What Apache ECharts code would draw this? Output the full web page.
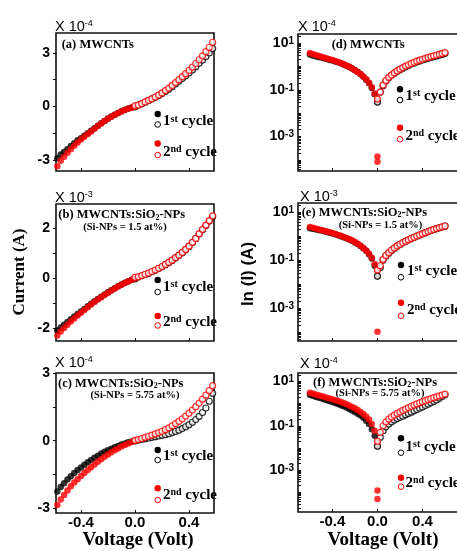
<!DOCTYPE html>
<html>
<head>
<meta charset="utf-8">
<script src="https://cdn.jsdelivr.net/npm/echarts@6.0.0/dist/echarts.min.js"></script>
<style>
  html, body { margin: 0; padding: 0; background: #fff; }
  #chart { width: 457px; height: 551px; }
</style>
</head>
<body>
<div id="chart"></div>
<script>
  const SERIF = '"Liberation Serif", "Times New Roman", serif'
  const SANS = '"Liberation Sans", Arial, sans-serif'
  const RED = '#ff0000'
  const BLACK = '#000000'

  // bias voltage (V), shared by every sweep
  const voltage = [-0.6, -0.575, -0.55, -0.525, -0.5, -0.475, -0.45, -0.425, -0.4, -0.375, -0.35, -0.325,
    -0.3, -0.275, -0.25, -0.225, -0.2, -0.175, -0.15, -0.125, -0.1, -0.075, -0.05, -0.025, 0,
    0.025, 0.05, 0.075, 0.1, 0.125, 0.15, 0.175, 0.2, 0.225, 0.25, 0.275, 0.3, 0.325, 0.35, 0.375,
    0.4, 0.425, 0.45, 0.475, 0.5, 0.525, 0.55, 0.575, 0.6]

  // (a)/(d) MWCNTs, current x 10^-4 A
  const aCycle1 = [-3.2, -2.9, -2.7, -2.55, -2.4, -2.22, -2.06, -1.9, -1.78, -1.64, -1.5, -1.36,
    -1.22, -1.08, -0.94, -0.81, -0.68, -0.57, -0.46, -0.36, -0.27, -0.19, -0.12, -0.065, -0.03,
    0.08, 0.15, 0.24, 0.33, 0.42, 0.51, 0.61, 0.72, 0.84, 0.97, 1.11, 1.26, 1.41, 1.57, 1.72,
    1.88, 2.05, 2.23, 2.42, 2.6, 2.8, 3.0, 3.25, 3.55]
  const aCycle2 = [-3.7, -3.35, -3.05, -2.82, -2.6, -2.4, -2.2, -2.02, -1.86, -1.7, -1.55, -1.4,
    -1.25, -1.1, -0.96, -0.82, -0.69, -0.58, -0.47, -0.37, -0.28, -0.2, -0.13, -0.07, 0.04,
    0.08, 0.16, 0.25, 0.34, 0.43, 0.53, 0.64, 0.76, 0.89, 1.03, 1.18, 1.34, 1.5, 1.67, 1.84,
    2.02, 2.21, 2.41, 2.62, 2.84, 3.07, 3.32, 3.6, 3.9]
  const aZeroBias = [0.00014, 0.000085]

  // (b)/(e) MWCNTs:SiO2-NPs 1.5 at%, current x 10^-3 A
  const bCycle1 = [-2.2, -2.08, -1.96, -1.85, -1.74, -1.63, -1.52, -1.42, -1.32, -1.22, -1.12, -1.02,
    -0.92, -0.83, -0.74, -0.65, -0.56, -0.48, -0.4, -0.32, -0.25, -0.18, -0.12, -0.06, -0.022,
    0.05, 0.1, 0.15, 0.2, 0.26, 0.32, 0.39, 0.46, 0.54, 0.62, 0.71, 0.81, 0.91, 1.02, 1.14,
    1.27, 1.42, 1.58, 1.76, 1.93, 2.1, 2.28, 2.46, 2.65]
  const bCycle2 = [-2.45, -2.28, -2.12, -1.98, -1.85, -1.72, -1.6, -1.48, -1.37, -1.26, -1.15, -1.05,
    -0.95, -0.85, -0.76, -0.67, -0.58, -0.49, -0.41, -0.33, -0.26, -0.19, -0.13, -0.07, 0.04,
    0.06, 0.11, 0.16, 0.21, 0.27, 0.33, 0.4, 0.47, 0.55, 0.63, 0.72, 0.82, 0.92, 1.03, 1.15,
    1.28, 1.43, 1.59, 1.77, 1.95, 2.12, 2.3, 2.49, 2.7]
  const bZeroBias = [0.000105]

  // (c)/(f) MWCNTs:SiO2-NPs 5.75 at%, current x 10^-4 A
  const cCycle1 = [-2.5, -2.25, -2.05, -1.88, -1.72, -1.57, -1.43, -1.3, -1.18, -1.06, -0.95, -0.85,
    -0.75, -0.66, -0.57, -0.49, -0.42, -0.35, -0.29, -0.23, -0.17, -0.12, -0.07, -0.035, -0.012,
    0.03, 0.06, 0.09, 0.12, 0.15, 0.18, 0.21, 0.24, 0.27, 0.31, 0.36, 0.41, 0.47, 0.54, 0.62,
    0.71, 0.82, 0.94, 1.08, 1.25, 1.45, 1.75, 2.1, 2.5]
  const cCycle2 = [-3.1, -2.85, -2.6, -2.4, -2.2, -2.02, -1.85, -1.7, -1.56, -1.43, -1.3, -1.17,
    -1.05, -0.93, -0.82, -0.71, -0.61, -0.51, -0.42, -0.34, -0.26, -0.19, -0.12, -0.06, 0.02,
    0.05, 0.1, 0.15, 0.2, 0.25, 0.3, 0.36, 0.42, 0.49, 0.57, 0.66, 0.76, 0.86, 0.97, 1.09,
    1.22, 1.36, 1.51, 1.67, 1.84, 2.02, 2.22, 2.44, 2.68]
  const cZeroBias = [0.00012, 0.00005]

  // tick labels
  const voltTicks = [-0.4, 0, 0.4]
  const aTickLabels = [-3, 0, 3]
  const bTickLabels = [-2, 0, 2]
  const cTickLabels = [-3, 0, 3]
  const logTickLabels = [-3, -1, 1]   // exponents of 10
  const exponents = ['-4', '-3', '-4']

  const logTicks = []
  for (let n = -5; n <= 1; n++) {
    for (let k = 1; k <= 9; k++) logTicks.push(n + Math.log10(k))
  }

  const panels = [
    { rect: [56, 33, 158, 138], x: [-0.585, 0.585], y: [-3.62, 4.12], c1: aCycle1, c2: aCycle2, zero: aZeroBias, labels: aTickLabels, ticks: [-3, -1.5, 0, 1.5, 3], log: false, xLab: false },
    { rect: [56, 204, 158, 137], x: [-0.585, 0.585], y: [-2.5, 2.96], c1: bCycle1, c2: bCycle2, zero: bZeroBias, labels: bTickLabels, ticks: [-2, -1, 0, 1, 2], log: false, xLab: false },
    { rect: [56, 373, 158, 140], x: [-0.585, 0.585], y: [-3.2, 3.0], c1: cCycle1, c2: cCycle2, zero: cZeroBias, labels: cTickLabels, ticks: [-3, -1.5, 0, 1.5, 3], log: false, xLab: true },
    { rect: [298, 34, 165, 137], x: [-0.706, 0.76], y: [-4.47, 1.385], c1: aCycle1, c2: aCycle2, zero: aZeroBias, labels: logTickLabels, ticks: logTicks, log: true, xLab: false },
    { rect: [298, 203, 165, 138], x: [-0.706, 0.76], y: [-4.36, 1.39], c1: bCycle1, c2: bCycle2, zero: bZeroBias, labels: logTickLabels, ticks: logTicks, log: true, xLab: false },
    { rect: [298, 373, 165, 139], x: [-0.706, 0.76], y: [-4.89, 1.38], c1: cCycle1, c2: cCycle2, zero: cZeroBias, labels: logTickLabels, ticks: logTicks, log: true, xLab: true }
  ]

  function branch(vals, side, log, extra) {
    const out = []
    voltage.forEach((v, i) => {
      if (side < 0 ? v <= 0 : v >= 0) {
        out.push([v, log ? Math.log10(Math.abs(vals[i])) : vals[i]])
      }
    })
    if (extra) extra.forEach(e => out.push([0, log ? Math.log10(e) : e]))
    return out
  }

  const grid = [], xAxis = [], yAxis = [], series = []
  panels.forEach((p, k) => {
    grid.push({
      left: p.rect[0], top: p.rect[1], width: p.rect[2], height: p.rect[3],
      show: true, borderColor: '#111', borderWidth: 1.6, outerBoundsMode: 'none'
    })
    xAxis.push({
      type: 'value', gridIndex: k, min: p.x[0], max: p.x[1],
      axisLine: { show: false, onZero: false }, splitLine: { show: false },
      axisTick: { show: true, inside: true, length: 3, customValues: voltTicks, lineStyle: { color: '#111', width: 1 } },
      axisLabel: {
        show: p.xLab, customValues: voltTicks, margin: 2,
        formatter: v => v.toFixed(1),
        color: BLACK, fontSize: 15, fontWeight: 'bold', fontFamily: SANS
      }
    })
    yAxis.push({
      type: 'value', gridIndex: k, min: p.y[0], max: p.y[1],
      axisLine: { show: false, onZero: false }, splitLine: { show: false },
      axisTick: { show: true, inside: p.log, length: 3, customValues: p.ticks, lineStyle: { color: '#111', width: 1 } },
      axisLabel: p.log ? {
        customValues: p.labels, margin: 4,
        formatter: v => '{b|10}{s|' + Math.round(v) + '}',
        rich: {
          b: { fontSize: 14, fontWeight: 'bold', fontFamily: SANS, color: BLACK },
          s: { fontSize: 10, fontWeight: 'bold', fontFamily: SANS, color: BLACK, verticalAlign: 'top' }
        }
      } : {
        customValues: p.labels, margin: 6,
        formatter: v => String(v),
        color: BLACK, fontSize: 14, fontWeight: 'bold', fontFamily: SANS
      }
    })
    const common = { type: 'scatter', xAxisIndex: k, yAxisIndex: k, clip: true, silent: true }
    series.push(
      Object.assign({ data: branch(p.c1, -1, p.log), symbol: 'circle', symbolSize: 6.5, itemStyle: { color: BLACK } }, common),
      Object.assign({ data: branch(p.c1, 1, p.log), symbol: 'circle', symbolSize: 6, itemStyle: { color: '#fff', borderColor: BLACK, borderWidth: 1.2 } }, common),
      Object.assign({ data: branch(p.c2, -1, p.log, p.zero), symbol: 'circle', symbolSize: 6.5, itemStyle: { color: RED } }, common),
      Object.assign({ data: branch(p.c2, 1, p.log), symbol: 'circle', symbolSize: 6, itemStyle: { color: '#fff', borderColor: RED, borderWidth: 1.2 } }, common)
    )
  })

  function txt(x, y, text, opts) {
    return {
      type: 'text', x: x, y: y, rotation: opts.rotation || 0, z: 100,
      style: Object.assign({
        text: text, fill: BLACK,
        align: opts.align || 'left', textAlign: opts.align || 'left',
        verticalAlign: opts.va || 'middle', textVerticalAlign: opts.va || 'middle'
      }, opts.style)
    }
  }

  const supRich = (size, family, weight) => ({
    m: { fontSize: size, fontFamily: family, fontWeight: weight, color: BLACK },
    s: { fontSize: Math.round(size * 0.65), fontFamily: family, fontWeight: weight, color: BLACK, verticalAlign: 'top' },
    d: { fontSize: Math.round(size * 0.65), fontFamily: family, fontWeight: weight, color: BLACK, verticalAlign: 'bottom' }
  })

  const graphic = []

  // exponent notes above each panel
  const expPos = [[55, 34.5], [55, 205.5], [55, 370], [298, 34], [300, 204], [300, 371]]
  expPos.forEach((pos, i) => {
    graphic.push(txt(pos[0], pos[1], '{m|X 10}{s|' + exponents[i % 3] + '}', { va: 'bottom', style: { rich: supRich(14.5, SANS, 'normal') } }))
  })

  // panel titles
  const titleRich = supRich(12.5, SERIF, 'bold')
  const titleStyle = { fontSize: 12.5, fontFamily: SERIF, fontWeight: 'bold', rich: titleRich }
  const subStyle = { fontSize: 10.5, fontFamily: SERIF, fontWeight: 'bold' }
  graphic.push(
    txt(61.7, 45, '{m|(a) MWCNTs}', { style: titleStyle }),
    txt(58.3, 215, '{m|(b) MWCNTs:SiO}{d|2}{m|-NPs}', { style: titleStyle }),
    txt(125, 227, '(Si-NPs = 1.5 at%)', { align: 'center', style: subStyle }),
    txt(58, 383.5, '{m|(c) MWCNTs:SiO}{d|2}{m|-NPs}', { style: titleStyle }),
    txt(135, 395, '(Si-NPs = 5.75 at%)', { align: 'center', style: subStyle }),
    txt(331.7, 45, '{m|(d) MWCNTs}', { style: titleStyle }),
    txt(301.7, 212.7, '{m|(e) MWCNTs:SiO}{d|2}{m|-NPs}', { style: titleStyle }),
    txt(380.5, 225, '(Si-NPs = 1.5 at%)', { align: 'center', style: subStyle }),
    txt(313, 382.3, '{m|(f) MWCNTs:SiO}{d|2}{m|-NPs}', { style: titleStyle }),
    txt(380, 393.5, '(Si-NPs = 5.75 at%)', { align: 'center', style: subStyle })
  )

  // hand-made legends: [circle x, text x, 1st filled y, 1st open y, 1st text y, 2nd filled y, 2nd open y, 2nd text y]
  const legendPos = [
    [157.7, 163, 114, 124.5, 121.5, 143.5, 155, 152],
    [157.7, 163, 280, 292, 286.7, 316, 325.5, 321.7],
    [157.7, 163, 450, 460, 456, 488.3, 500, 495],
    [400, 405.5, 89.3, 100, 95.7, 127.7, 139.3, 136],
    [401, 407, 265, 277.3, 270.7, 302.7, 315.7, 310],
    [401, 405.5, 438.3, 452.7, 446.7, 477.7, 486.7, 483.3]
  ]
  const legRich = supRich(15, SERIF, 'bold')
  legendPos.forEach(l => {
    graphic.push(
      { type: 'circle', z: 100, shape: { cx: l[0], cy: l[2], r: 3.2 }, style: { fill: BLACK } },
      { type: 'circle', z: 100, shape: { cx: l[0], cy: l[3], r: 2.8 }, style: { fill: '#fff', stroke: BLACK, lineWidth: 1 } },
      txt(l[1], l[4], '{m|1}{s|st}{m| cycle}', { style: { rich: legRich } }),
      { type: 'circle', z: 100, shape: { cx: l[0], cy: l[5], r: 3.2 }, style: { fill: RED } },
      { type: 'circle', z: 100, shape: { cx: l[0], cy: l[6], r: 2.8 }, style: { fill: '#fff', stroke: RED, lineWidth: 1 } },
      txt(l[1], l[7], '{m|2}{s|nd}{m| cycle}', { style: { rich: legRich } })
    )
  })

  // axis titles
  graphic.push(
    txt(20, 272, 'Current (A)', { align: 'center', rotation: Math.PI / 2, style: { fontSize: 17, fontFamily: SERIF, fontWeight: 'bold' } }),
    txt(248, 274, 'ln (I) (A)', { align: 'center', rotation: Math.PI / 2, style: { fontSize: 17, fontFamily: SANS, fontWeight: 'bold' } }),
    txt(138, 540, 'Voltage (Volt)', { align: 'center', style: { fontSize: 19, fontFamily: SERIF, fontWeight: 'bold' } }),
    txt(383, 540, 'Voltage (Volt)', { align: 'center', style: { fontSize: 19, fontFamily: SERIF, fontWeight: 'bold' } })
  )

  const myChart = echarts.init(document.getElementById('chart'), null, { renderer: 'canvas' })
  myChart.setOption({
    animation: false,
    backgroundColor: '#fff',
    grid: grid,
    xAxis: xAxis,
    yAxis: yAxis,
    series: series,
    graphic: graphic
  })
  window.addEventListener('resize', () => myChart.resize(), false)
</script>
</body>
</html>
